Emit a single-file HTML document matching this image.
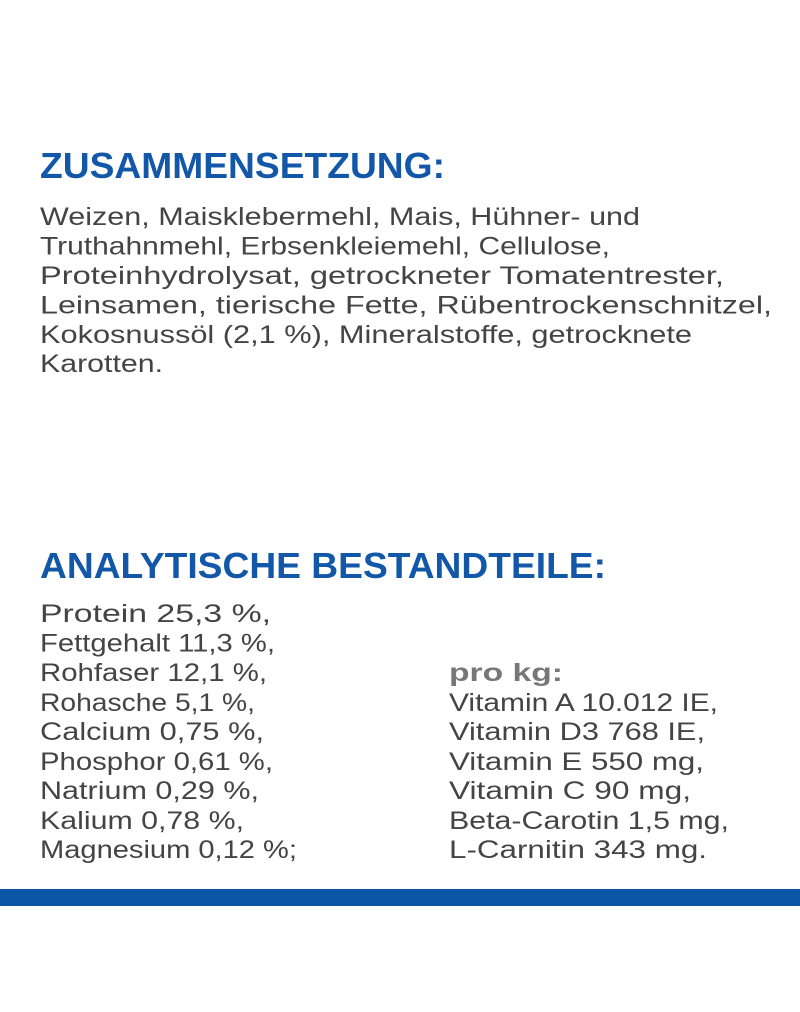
<!DOCTYPE html>
<html><head><meta charset="utf-8"><style>
html,body{margin:0;padding:0;background:#fff;}
svg{display:block}
.h{font-family:"Liberation Sans",sans-serif;font-weight:bold;font-size:36px;fill:#1257a8}
.t{font-family:"Liberation Sans",sans-serif;font-size:25px;fill:#444}
.b{font-family:"Liberation Sans",sans-serif;font-size:25px;fill:#777;font-weight:bold}
</style></head><body>
<svg width="800" height="1012" viewBox="0 0 800 1012" xmlns="http://www.w3.org/2000/svg">
<rect width="800" height="1012" fill="#fff"/>
<text class="h" x="40" y="178" textLength="405" lengthAdjust="spacingAndGlyphs">ZUSAMMENSETZUNG:</text>
<text class="t" x="40" y="225" textLength="600" lengthAdjust="spacingAndGlyphs">Weizen, Maisklebermehl, Mais, Hühner- und</text>
<text class="t" x="40" y="254.5" textLength="570" lengthAdjust="spacingAndGlyphs">Truthahnmehl, Erbsenkleiemehl, Cellulose,</text>
<text class="t" x="40" y="284" textLength="684" lengthAdjust="spacingAndGlyphs">Proteinhydrolysat, getrockneter Tomatentrester,</text>
<text class="t" x="40" y="313.5" textLength="732" lengthAdjust="spacingAndGlyphs">Leinsamen, tierische Fette, Rübentrockenschnitzel,</text>
<text class="t" x="40" y="343" textLength="652" lengthAdjust="spacingAndGlyphs">Kokosnussöl (2,1 %), Mineralstoffe, getrocknete</text>
<text class="t" x="40" y="372" textLength="123" lengthAdjust="spacingAndGlyphs">Karotten.</text>
<text class="h" x="40" y="578" textLength="566" lengthAdjust="spacingAndGlyphs">ANALYTISCHE BESTANDTEILE:</text>
<text class="t" x="40" y="622" textLength="231" lengthAdjust="spacingAndGlyphs">Protein 25,3 %,</text>
<text class="t" x="40" y="651.5" textLength="235" lengthAdjust="spacingAndGlyphs">Fettgehalt 11,3 %,</text>
<text class="t" x="40" y="681" textLength="227" lengthAdjust="spacingAndGlyphs">Rohfaser 12,1 %,</text>
<text class="t" x="40" y="711" textLength="215" lengthAdjust="spacingAndGlyphs">Rohasche 5,1 %,</text>
<text class="t" x="40" y="740" textLength="224" lengthAdjust="spacingAndGlyphs">Calcium 0,75 %,</text>
<text class="t" x="40" y="770" textLength="233" lengthAdjust="spacingAndGlyphs">Phosphor 0,61 %,</text>
<text class="t" x="40" y="799" textLength="219" lengthAdjust="spacingAndGlyphs">Natrium 0,29 %,</text>
<text class="t" x="40" y="829" textLength="204" lengthAdjust="spacingAndGlyphs">Kalium 0,78 %,</text>
<text class="t" x="40" y="858" textLength="257" lengthAdjust="spacingAndGlyphs">Magnesium 0,12 %;</text>
<text class="b" x="449" y="681" textLength="114" lengthAdjust="spacingAndGlyphs">pro kg:</text>
<text class="t" x="449" y="711" textLength="269" lengthAdjust="spacingAndGlyphs">Vitamin A 10.012 IE,</text>
<text class="t" x="449" y="740" textLength="256" lengthAdjust="spacingAndGlyphs">Vitamin D3 768 IE,</text>
<text class="t" x="449" y="770" textLength="255" lengthAdjust="spacingAndGlyphs">Vitamin E 550 mg,</text>
<text class="t" x="449" y="799" textLength="242" lengthAdjust="spacingAndGlyphs">Vitamin C 90 mg,</text>
<text class="t" x="449" y="829" textLength="280" lengthAdjust="spacingAndGlyphs">Beta-Carotin 1,5 mg,</text>
<text class="t" x="449" y="858" textLength="258" lengthAdjust="spacingAndGlyphs">L-Carnitin 343 mg.</text>
<rect x="0" y="889" width="800" height="17" fill="#0b55a5"/>
</svg>
</body></html>
